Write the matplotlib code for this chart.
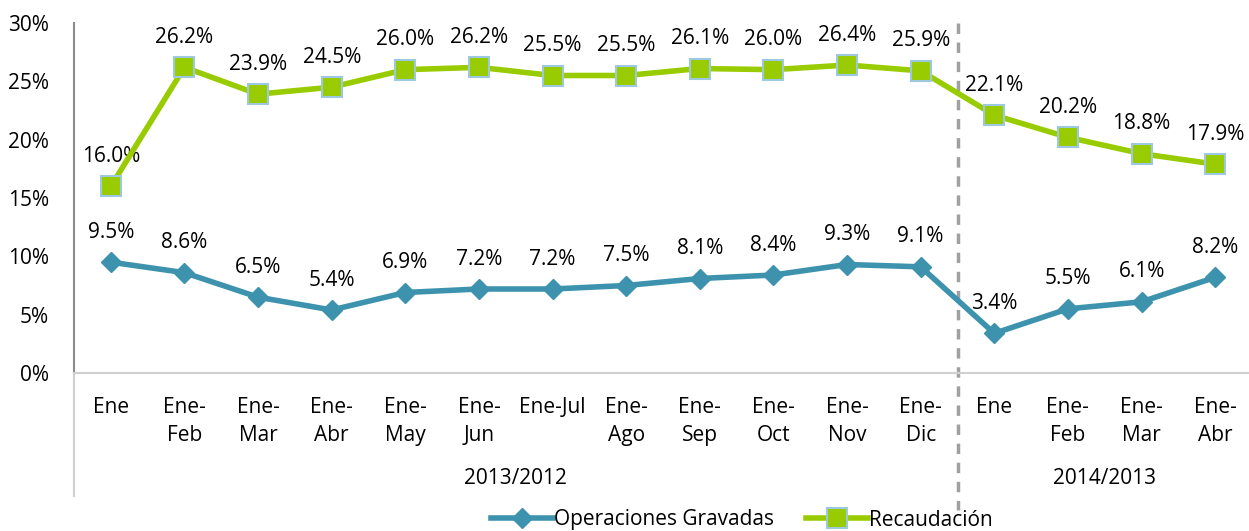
import matplotlib
matplotlib.use("Agg")
import matplotlib.pyplot as plt

# ── Data ──
categories = ["Ene", "Ene-\nFeb", "Ene-\nMar", "Ene-\nAbr", "Ene-\nMay", "Ene-\nJun",
              "Ene-Jul", "Ene-\nAgo", "Ene-\nSep", "Ene-\nOct", "Ene-\nNov", "Ene-\nDic",
              "Ene", "Ene-\nFeb", "Ene-\nMar", "Ene-\nAbr"]
groups = ["2013/2012", "2014/2013"]
group_sizes = [12, 4]
operaciones = [9.5, 8.6, 6.5, 5.4, 6.9, 7.2, 7.2, 7.5, 8.1, 8.4, 9.3, 9.1, 3.4, 5.5, 6.1, 8.2]
recaudacion = [16.0, 26.2, 23.9, 24.5, 26.0, 26.2, 25.5, 25.5, 26.1, 26.0, 26.4, 25.9,
               22.1, 20.2, 18.8, 17.9]
yticks = [0, 5, 10, 15, 20, 25, 30]

TEAL = "#3d93ad"
GREEN = "#99cc00"
EDGE = "#9cc8e0"
FS = 15

plt.rcParams["font.family"] = ["Open Sans", "DejaVu Sans"]

W, H = 1249, 531
fig = plt.figure(figsize=(W / 100, H / 100), dpi=100)
ax = fig.add_axes([74 / W, 1 - 373 / H, 1178 / W, 350 / H])

x = list(range(len(categories)))
ax.plot(x, operaciones, color=TEAL, lw=4, marker="D", ms=10,
        mfc=TEAL, mec=TEAL, label="Operaciones Gravadas", zorder=3)
ax.plot(x, recaudacion, color=GREEN, lw=4, marker="s", ms=14,
        mfc=GREEN, mec=EDGE, mew=1.5, label="Recaudación", zorder=4)

for xi, v in zip(x, operaciones):
    ax.annotate(f"{v:.1f}%", (xi, v), xytext=(0, 14), textcoords="offset points",
                ha="center", va="bottom", fontsize=FS, color="black")
for xi, v in zip(x, recaudacion):
    ax.annotate(f"{v:.1f}%", (xi, v), xytext=(0, 14), textcoords="offset points",
                ha="center", va="bottom", fontsize=FS, color="black")

ax.set_xlim(-0.5, len(categories) - 0.5)
ax.set_ylim(0, 30)
ax.set_yticks(yticks)
ax.set_yticklabels([f"{t}%" for t in yticks], fontsize=FS)
ax.set_xticks(x)
ax.set_xticklabels(categories, fontsize=FS, va="top", linespacing=1.45)
ax.tick_params(axis="x", length=0, pad=17)
ax.tick_params(axis="y", length=0, pad=18)

for s in ["top", "right"]:
    ax.spines[s].set_visible(False)
ax.spines["left"].set_color("#8c8c8c")
ax.spines["left"].set_linewidth(1.5)
ax.spines["bottom"].set_color("#d0d0d0")
ax.spines["bottom"].set_linewidth(1.5)

# group separators below the axis
trans = ax.get_xaxis_transform()
ax.plot([-0.5, -0.5], [0, -0.35], transform=trans, color="#d0d0d0", lw=1.5, clip_on=False)
ax.plot([11.5, 11.5], [1.0, -0.39], transform=trans, color="#a0a0a0", lw=2.5,
        ls=(0, (3, 2.5)), clip_on=False, zorder=2)

start = 0
for g, n in zip(groups, group_sizes):
    ax.text(start + (n - 1) / 2, -0.3, g, transform=trans, ha="center", va="center",
            fontsize=FS)
    start += n

leg = fig.legend(loc="center", bbox_to_anchor=(0.594, 1 - 520 / H), ncol=2, frameon=False,
                 fontsize=FS, handlelength=3, columnspacing=1.5, handletextpad=0.05)

fig.savefig("out.png", dpi=100)
